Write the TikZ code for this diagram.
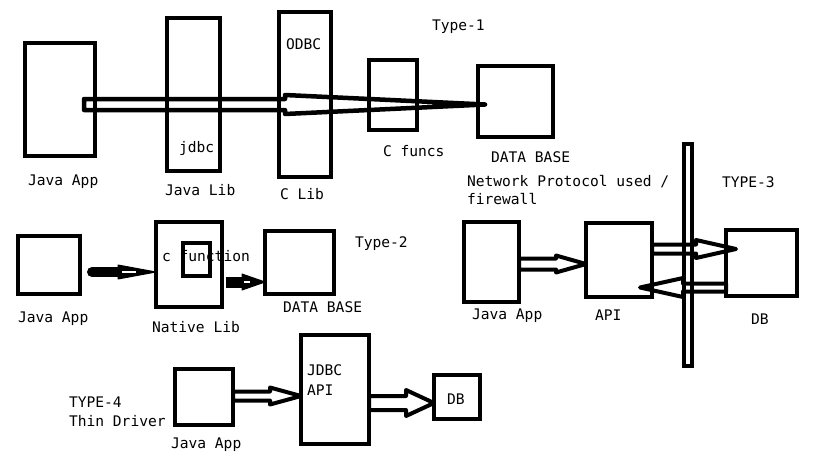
\documentclass[tikz,border=0pt]{standalone}
\usepackage{fontspec}
\newfontfamily\mono{DejaVu Sans Mono}
\usetikzlibrary{calc}
\newcommand\hollowarr[6][]{%
  \draw[hol,#1] let \p1=(#2), \p2=(#3) in
   (\x1,\y2+#5) -- (\x2-#4,\y2+#5) -- (\x2-#4,\y2+#6) -- (\p2)
   -- (\x2-#4,\y2-#6) -- (\x2-#4,\y2-#5) -- (\x1,\y2-#5) -- cycle;}
\begin{document}
\begin{tikzpicture}[x=1pt,y=-1pt,
  box/.style={draw=black, line width=4pt, inner sep=0pt, outer sep=0pt},
  hol/.style={draw=black, line width=4pt, line join=round},
  txt/.style={anchor=base west, inner sep=0pt, outer sep=0pt,
              font=\mono\fontsize{14.6}{17}\selectfont, text=black}]
\useasboundingbox[fill=white] (0,0) rectangle (819,460);

% ---------------- Type-1 ----------------
\node[box, minimum width=70pt, minimum height=113pt] (J1) at (60,99.5) {};
\node[box, minimum width=53pt, minimum height=153pt] (L1) at (193.5,94.5) {};
\node[box, minimum width=52pt, minimum height=165pt] (C1) at (305,94.5) {};
\node[box, minimum width=48pt, minimum height=70pt] (F1) at (393,95) {};
\node[box, minimum width=75pt, minimum height=71pt] (D1) at (515.5,101.5) {};
\coordinate (t1s) at (84,105);
\coordinate (t1t) at (485,104.5);
\hollowarr[line width=4.5pt]{t1s}{t1t}{200pt}{5.5pt}{9.5pt}

\node[txt] (ty1) at (432,31) {Type-1};
\node[txt] (odbc) at (286,50) {ODBC};
\node[txt] (jdbc) at (179,152) {jdbc};
\node[txt] (ja1) at (28,185) {Java App};
\node[txt] (jl1) at (165,195) {Java Lib};
\node[txt] (cl1) at (280,199) {C Lib};
\node[txt] (cf1) at (383,156) {C funcs};
\node[txt] (db1) at (491,162) {DATA BASE};
\node[txt] (np1) at (467,186) {Network Protocol used /};
\node[txt] (np2) at (467,204) {firewall};

% ---------------- Type-2 ----------------
\node[box, minimum width=62pt, minimum height=58pt] (J2) at (49,265) {};
\node[box, minimum width=66pt, minimum height=85pt] (N2) at (189,264.5) {};
\node[box, minimum width=27pt, minimum height=33pt] (I2) at (196.5,259.5) {};
\node[box, minimum width=69pt, minimum height=63pt] (D2) at (299.5,262.5) {};
% arrow Java App -> Native Lib
\draw[line width=10pt, line cap=round] (92,272) -- (120,272);
\filldraw[line width=1pt, line join=round] (118,265) -- (N2.west|-0,272) -- (118,279) -- cycle;
\draw[white, line width=1.5pt] (122,272) -- (136,272);
% arrow Native Lib -> DATA BASE
\draw[line width=11pt] (N2.east|-0,282.5) ++(4,0) -- (243,282.5);
\filldraw[line width=1pt, line join=round] (242,274) -- (D2.west|-0,282) -- (242,290) -- cycle;
\draw[white, line width=2pt] (244,282) -- (250,282);

\node[txt] (ty2) at (355,247) {Type-2};
\node[txt] (cfn) at (162,261) {c function};
\node[txt] (db2) at (283,312) {DATA BASE};
\node[txt] (ja2) at (18,322) {Java App};
\node[txt] (nl2) at (152,332) {Native Lib};

% ---------------- Type-3 ----------------
\node[box, minimum width=55pt, minimum height=80pt] (J3) at (491.5,262) {};
\node[box, minimum width=66pt, minimum height=74pt] (A3) at (619,260) {};
\node[box, minimum width=71pt, minimum height=66pt] (D3) at (761.5,263) {};
\node[box, minimum width=8pt, minimum height=222pt] (FW) at (688,255) {};
\hollowarr{J3.east}{A3.west|-0,264}{30pt}{5.5pt}{8.5pt}
\coordinate (t3bt) at (736,249);
\hollowarr{A3.east}{t3bt}{40pt}{4.5pt}{9pt}
\coordinate (t3ct) at (640,287.5);
\hollowarr{D3.west}{t3ct}{-43pt}{4pt}{9.5pt}

\node[txt] (ty3) at (722,187) {TYPE-3};
\node[txt] (ja3) at (472,319) {Java App};
\node[txt] (api3) at (595,320) {API};
\node[txt] (db3) at (751,324) {DB};

% ---------------- Type-4 ----------------
\node[box, minimum width=58pt, minimum height=56pt] (J4) at (204,397) {};
\node[box, minimum width=68pt, minimum height=109pt] (A4) at (335,389.5) {};
\node[box, minimum width=46pt, minimum height=44pt] (D4) at (457,397) {};
\hollowarr{J4.east}{A4.west|-0,396}{31pt}{4.5pt}{8.5pt}
\hollowarr{A4.east}{D4.west|-0,403}{28pt}{7pt}{13pt}

\node[txt] (ty4) at (69,407) {TYPE-4};
\node[txt] (thin) at (69,426) {Thin Driver};
\node[txt] (ja4) at (171,448) {Java App};
\node[txt] (jdbc4) at (307,375) {JDBC};
\node[txt] (api4) at (307,395) {API};
\node[txt] (db4) at (447,404) {DB};
\end{tikzpicture}
\end{document}
